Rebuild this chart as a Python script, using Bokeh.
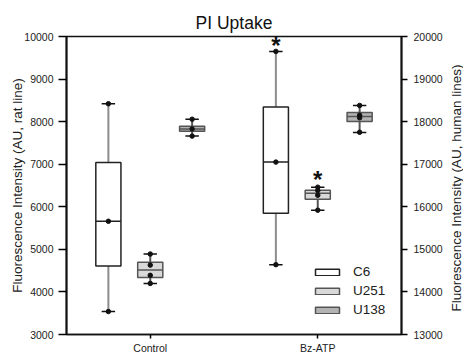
import math
from bokeh.plotting import figure
from bokeh.layouts import row
from bokeh.models import (Range1d, LinearAxis, FixedTicker,
                          Legend, LegendItem, ColumnDataSource)
from bokeh.core.properties import value
from bokeh.embed import file_html
from bokeh.resources import INLINE

# ---------------- data ----------------
groups = ["Control", "Bz-ATP"]
group_pos = [1, 3]
cell_lines = ["C6", "U251", "U138"]
line_offset = [-0.5, 0.0, 0.5]

# C6 (rat line, left axis)
c6_low = [3540, 4640]
c6_q1 = [4610, 5850]
c6_med = [5660, 7050]
c6_q3 = [7040, 8345]
c6_high = [8420, 9650]
c6_pts = [[8420, 5660, 3540], [9650, 7050, 4640]]

# U251 (human line, right axis)
u251_low = [14200, 15920]
u251_q1 = [14340, 16177]
u251_med = [14515, 16320]
u251_q3 = [14700, 16388]
u251_high = [14890, 16460]
u251_pts = [[14890, 14630, 14390, 14200], [16460, 16380, 16270, 15920]]

# U138 (human line, right axis)
u138_low = [17660, 17746]
u138_q1 = [17776, 18003]
u138_med = [17830, 18120]
u138_q3 = [17893, 18214]
u138_high = [18057, 18380]
u138_pts = [[18057, 17830, 17660], [18380, 18150, 18090, 17750]]

# significance marks: (cell line index, group index)
stars = [(0, 1), (1, 1)]
star_offsets = [-6, -8]

left_ticks = [3000, 4000, 5000, 6000, 7000, 8000, 9000, 10000]
right_ticks = [13000, 14000, 15000, 16000, 17000, 18000, 19000, 20000]

left_title = "Fluorescence Intensity (AU, rat line)"
right_title = "Fluorescence Intensity (AU, human lines)"

# ---------------- styling ----------------
FONT = "Liberation Sans"
fills = ["#ffffff", "#d9d9d9", "#b3b3b3"]
box_lines = ["#222222", "#555555", "#555555"]
whisk_colors = ["#8c8c8c", "#555555", "#555555"]
range_names = ["default", "human", "human"]
BOX_W = 0.30
CAP_W = 0.16

p = figure(width=448, height=356, output_backend="svg", toolbar_location=None,
           x_range=Range1d(0, 4), y_range=Range1d(left_ticks[0], left_ticks[-1]),
           min_border_left=66, min_border_right=47, min_border_top=36,
           min_border_bottom=22)
p.extra_y_ranges = {"human": Range1d(right_ticks[0], right_ticks[-1])}

p.title.text = "PI Uptake"
p.title.align = "center"
p.title.text_font = FONT
p.title.text_font_size = "17.5px"
p.title.text_font_style = "normal"
p.title.text_color = "#111111"
p.title.standoff = 7

p.xgrid.visible = False
p.ygrid.visible = False
p.outline_line_color = "#111111"
p.outline_line_width = 1.5
p.background_fill_color = "white"
p.border_fill_color = "white"

# x axis
xa = p.xaxis[0]
xa.ticker = FixedTicker(ticks=group_pos)
xa.major_label_overrides = {gp: g for gp, g in zip(group_pos, groups)}
xa.major_tick_out = 4
xa.major_tick_in = 0
xa.minor_tick_line_color = None
xa.axis_line_color = "#111111"
xa.axis_line_width = 1.5
xa.major_tick_line_width = 1.5
xa.major_label_text_font = FONT
xa.major_label_text_font_size = "10.5px"
xa.major_label_text_color = "#222222"
xa.major_label_standoff = 3

# left / right axes
ya = p.yaxis[0]
ya.ticker = FixedTicker(ticks=left_ticks)
ya.axis_label = left_title
ra = LinearAxis(y_range_name="human", ticker=FixedTicker(ticks=right_ticks))
p.add_layout(ra, "right")
for ax in (ya, ra):
    ax.major_tick_in = 0
    ax.minor_tick_line_color = None
    ax.axis_line_color = "#111111"
    ax.axis_line_width = 2
    ax.major_tick_line_width = 1.5
    ax.major_label_text_font = FONT
    ax.major_label_text_font_size = "10.5px"
    ax.major_label_text_color = "#222222"
    ax.axis_label_text_font = FONT
    ax.axis_label_text_font_size = "13.5px"
    ax.axis_label_text_font_style = "normal"
    ax.axis_label_text_color = "#222222"
ya.axis_label_standoff = -4
ya.major_tick_out = 8
ya.major_label_standoff = 5
ra.major_tick_out = 6
ra.major_label_standoff = 6

series = [
    (c6_low, c6_q1, c6_med, c6_q3, c6_high, c6_pts),
    (u251_low, u251_q1, u251_med, u251_q3, u251_high, u251_pts),
    (u138_low, u138_q1, u138_med, u138_q3, u138_high, u138_pts),
]

box_renderers = []
for i, (lo, q1, med, q3, hi, pts) in enumerate(series):
    xs = [gp + line_offset[i] for gp in group_pos]
    rn = range_names[i]
    src = ColumnDataSource(dict(
        x=xs, lo=lo, q1=q1, med=med, q3=q3, hi=hi,
        cl=[x - CAP_W / 2 for x in xs], cr=[x + CAP_W / 2 for x in xs],
        bl=[x - BOX_W / 2 for x in xs], br=[x + BOX_W / 2 for x in xs]))
    # whiskers
    p.segment(x0="x", y0="lo", x1="x", y1="q1", source=src, y_range_name=rn,
              line_color=whisk_colors[i], line_width=2)
    p.segment(x0="x", y0="q3", x1="x", y1="hi", source=src, y_range_name=rn,
              line_color=whisk_colors[i], line_width=2)
    # caps
    p.segment(x0="cl", y0="lo", x1="cr", y1="lo", source=src, y_range_name=rn,
              line_color="#111111", line_width=1.5)
    p.segment(x0="cl", y0="hi", x1="cr", y1="hi", source=src, y_range_name=rn,
              line_color="#111111", line_width=1.5)
    # box
    r = p.vbar(x="x", bottom="q1", top="q3", width=BOX_W, source=src, y_range_name=rn,
               fill_color=fills[i], line_color=box_lines[i], line_width=1.5)
    box_renderers.append(r)
    # median
    p.segment(x0="bl", y0="med", x1="br", y1="med", source=src, y_range_name=rn,
              line_color=box_lines[i], line_width=1.5)
    # points
    px, py = [], []
    for x, vals in zip(xs, pts):
        px += [x] * len(vals)
        py += vals
    p.scatter(px, py, y_range_name=rn, size=4.5, color="#111111")

# significance stars
for (li, gi), off in zip(stars, star_offsets):
    lo, q1, med, q3, hi, pts = series[li]
    p.text(x=[group_pos[gi] + line_offset[li]], y=[hi[gi]], text=["*"],
           y_range_name=range_names[li], text_font=value(FONT),
           text_font_size="24px", text_font_style="bold", text_align="center",
           text_baseline="middle", y_offset=off, text_color="#111111")

legend = Legend(items=[LegendItem(label=n, renderers=[r]) for n, r in zip(cell_lines, box_renderers)],
                location=(246, 17), orientation="vertical")
legend.glyph_width = 30
legend.glyph_height = 8
legend.label_height = 8
legend.label_standoff = 11
legend.spacing = 4
legend.padding = 0
legend.margin = 0
legend.border_line_color = None
legend.background_fill_alpha = 0
legend.label_text_font = FONT
legend.label_text_font_size = "13.5px"
legend.label_text_color = "#222222"
p.add_layout(legend, "center")

# right-hand axis title, drawn in a narrow strip so that it reads bottom-to-top
strip = figure(width=15, height=356, output_backend="svg", toolbar_location=None,
               x_range=Range1d(0, 15), y_range=Range1d(356, 0),
               x_axis_type=None, y_axis_type=None,
               min_border_left=0, min_border_right=0, min_border_top=0,
               min_border_bottom=0)
strip.outline_line_color = None
strip.xgrid.visible = False
strip.ygrid.visible = False
strip.background_fill_color = "white"
strip.border_fill_color = "white"
strip.text(x=[8], y=[181], text=[right_title], angle=math.pi / 2,
           text_font=value(FONT), text_font_size="13.5px", text_align="center",
           text_baseline="middle", text_color="#222222")

layout = row(p, strip, spacing=0)

open("out.html", "w").write(file_html(layout, INLINE))
